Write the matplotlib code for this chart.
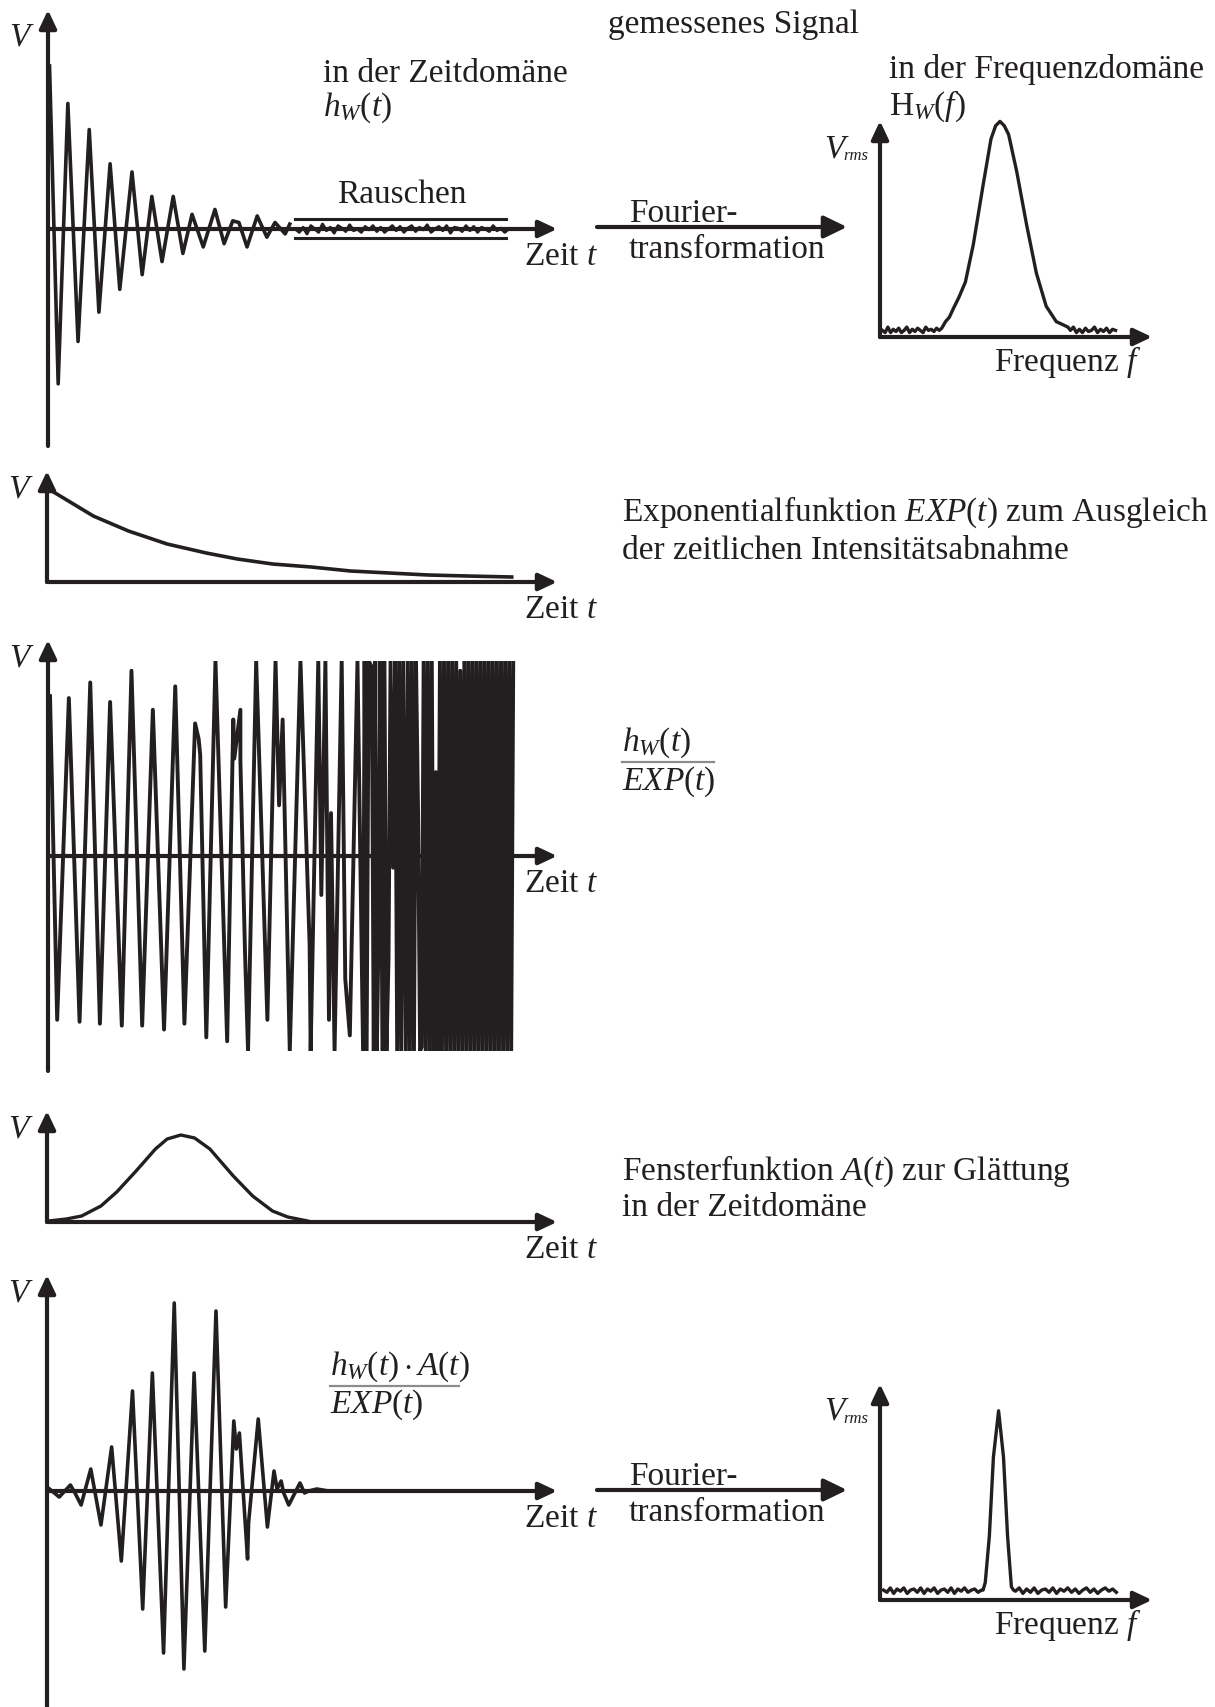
import numpy as np
import matplotlib
matplotlib.use("Agg")
import matplotlib.pyplot as plt

plt.rcParams['font.family'] = ['Liberation Serif', 'DejaVu Serif']
plt.rcParams['mathtext.fontset'] = 'custom'
plt.rcParams['mathtext.rm'] = 'Liberation Serif'
plt.rcParams['mathtext.it'] = 'Liberation Serif:italic'
plt.rcParams['mathtext.bf'] = 'Liberation Serif:bold'

INK = '#231f20'
W, H = 1215, 1708

# measured signal h_w(t): turning points (time 0..100, volts relative to first peak)
p1_t = [0.3, 2.0, 3.9, 5.9, 8.1, 10.0, 12.2, 14.1, 16.5, 18.5, 20.4, 22.4, 24.6, 26.5,
        28.3, 30.5, 32.8, 34.6, 36.3, 37.5, 39.1, 41.1, 43.0, 44.6, 46.6, 47.5]
p1_v = [1.0, -0.95, 0.77, -0.69, 0.61, -0.51, 0.40, -0.37, 0.35, -0.28, 0.20, -0.20, 0.20, -0.15,
        0.09, -0.11, 0.12, -0.09, 0.05, 0.04, -0.11, 0.08, -0.05, 0.04, -0.03, 0.03]
# noise tail after the ringing has died out
noise_v = [0.00, -0.02, 0.01, -0.03, 0.02, 0.00, -0.02, 0.03, -0.01, 0.01, -0.025, 0.02, 0.005, -0.015,
           0.025, -0.01, 0.0, -0.02, 0.015, -0.005, 0.02, -0.015, 0.01, -0.02, 0.0, 0.02, -0.01, 0.015,
           -0.02, 0.005, 0.02, -0.015, 0.01, -0.005, 0.025, -0.02, 0.0, 0.015, -0.01, 0.02, -0.025, 0.01,
           0.005, -0.015, 0.02, -0.01, 0.015, -0.02, 0.01, 0.0, -0.015, 0.02, -0.01, 0.005, -0.02, 0.0]

# EXP(t)
p2_t = [0.3, 9.1, 16.0, 23.6, 31.3, 37.4, 44.3, 51.9, 59.6, 67.2, 74.9, 82.5, 91.3]
p2_v = [0.93, 0.66, 0.51, 0.38, 0.29, 0.23, 0.18, 0.15, 0.11, 0.09, 0.07, 0.06, 0.05]

# h_w(t) / EXP(t), clipped at +-1
p3_t = [0.4, 1.8, 4.1, 6.2, 8.3, 10.2, 12.2, 14.5, 16.4, 18.5, 20.6, 22.8, 25.0, 26.8, 28.9, 29.6,
        29.9, 31.1, 32.9, 35.2, 36.4, 36.6, 37.8, 37.8, 38.7, 39.3, 40.9, 43.1, 44.7, 45.4, 46.1,
        47.5, 49.6, 51.4, 51.6, 53.1, 53.7, 54.5, 55.2, 55.6, 56.3, 57.7, 58.4, 59.3, 60.8, 61.9]
p3_v = [0.82, -0.84, 0.81, -0.85, 0.89, -0.86, 0.79, -0.87, 0.95, -0.87, 0.75, -0.89, 0.87, -0.86, 0.68, 0.60,
        0.52, -0.93, 1.0, -0.95, 0.70, 0.50, 0.75, 0.49, -0.49, -1.0, 1.0, -0.84, 1.0, 0.26, 0.70,
        -1.0, 1.0, -0.46, -1.0, 1.0, -0.20, 1.0, -0.84, 0.22, -1.0, 1.0, -0.63, -0.92, 1.0, -1.0]
# amplified noise at the end of the record
p3_tail_t = [62.2, 62.6, 63.0, 63.6, 64.0, 64.3, 64.6, 64.9, 65.3, 65.7, 66.1, 66.5, 66.9, 67.3, 67.8,
             68.2, 68.6, 69.0, 69.4, 69.8, 70.3, 70.7, 71.1, 71.5, 71.9, 72.3, 72.7, 73.1, 73.4, 73.8,
             74.2, 74.6, 75.0, 75.4, 75.8, 76.2, 76.6, 77.0, 77.4, 77.8, 78.2, 78.6, 79.0, 79.4, 79.8,
             80.2, 80.6, 81.0, 81.4, 81.8, 82.2, 82.6, 83.0, 83.4, 83.8, 84.2, 84.6, 85.0, 85.4, 85.8,
             86.2, 86.6, 87.0, 87.4, 87.8, 88.2, 88.6, 89.0, 89.4, 89.8, 90.2, 90.6, 91.0, 91.4]
p3_tail_v = [1.0, -1.0, 1.0, 0.97, -1.0, 1.0, -1.0, -0.48, 1.0, -1.0, 1.0, -1.0, -0.53, 1.0, -0.06,
             1.0, -1.0, 1.0, -1.0, 1.0, -1.0, 1.0, -1.0, 1.0, -1.0, 1.0, 0.23, -1.0, -0.98, 1.0,
             -1.0, 1.0, -1.0, 1.0, -1.0, 0.43, -1.0, 1.0, -1.0, 1.0, -1.0, 1.0, -1.0, 1.0, -1.0,
             1.0, -1.0, 0.95, -1.0, 1.0, -1.0, 1.0, -1.0, 1.0, -1.0, 1.0, -1.0, 1.0, -1.0, 1.0,
             -1.0, 1.0, -1.0, 1.0, -1.0, 1.0, -1.0, 1.0, -1.0, 1.0, -1.0, 1.0, -1.0, 1.0]

# window A(t)
p4_t = [0.3, 3.8, 6.8, 10.6, 13.7, 17.5, 21.3, 23.6, 26.3, 29.0, 32.0, 36.6, 40.4, 44.3, 47.3, 51.2]
p4_v = [0.01, 0.03, 0.06, 0.16, 0.30, 0.51, 0.73, 0.83, 0.87, 0.84, 0.73, 0.46, 0.26, 0.11, 0.05, 0.01]

# h_w(t) * A(t) / EXP(t)
p5_t = [0.5, 2.4, 4.6, 5.5, 6.7, 8.6, 10.6, 12.7, 14.6, 16.8, 18.8, 20.7, 22.9, 25.0, 26.9, 28.9, 31.0,
        33.2, 35.1, 36.7, 37.2, 37.8, 39.4, 39.6, 41.5, 43.3, 44.6, 45.2, 46.0, 46.5, 47.5, 49.7, 50.6,
        51.4, 53.0, 55.3, 56.9]
p5_v = [0.01, -0.03, 0.03, -0.01, -0.07, 0.11, -0.17, 0.22, -0.35, 0.50, -0.59, 0.59, -0.81, 0.94, -0.89,
        0.59, -0.80, 0.90, -0.58, 0.35, 0.21, 0.29, -0.34, -0.16, 0.36, -0.18, 0.10, 0.01, 0.05, -0.01,
        -0.07, 0.04, -0.01, 0.0, 0.01, 0.0, 0.0]

# spectra H_w(f): noise floor left / peak / noise floor right
s1_left = [0.03, 0.02, 0.045, 0.02, 0.035, 0.025, 0.04, 0.02, 0.03, 0.045, 0.02, 0.035, 0.025, 0.04,
           0.03, 0.02, 0.045, 0.03, 0.035, 0.025, 0.04, 0.03]
s1_peak_f = [22.7, 24.1, 25.5, 27.0, 29.0, 31.4, 34.3, 37.9, 40.8, 42.5, 44.1, 45.7, 47.3, 50.3, 53.9,
             57.5, 61.1, 64.8, 69.1]
s1_peak_a = [0.04, 0.07, 0.09, 0.13, 0.18, 0.25, 0.42, 0.69, 0.90, 0.96, 0.98, 0.96, 0.92, 0.75, 0.51,
             0.29, 0.14, 0.07, 0.045]
s1_right = [0.03, 0.045, 0.02, 0.035, 0.02, 0.04, 0.025, 0.03, 0.045, 0.02, 0.035, 0.025, 0.04, 0.02,
            0.035, 0.03]

s2_left = [0.045, 0.035, 0.055, 0.03, 0.05, 0.04, 0.055, 0.03, 0.045, 0.05, 0.035, 0.055, 0.03, 0.05,
           0.04, 0.055, 0.03, 0.045, 0.05, 0.035, 0.055, 0.03, 0.05, 0.04, 0.055, 0.035, 0.045, 0.05,
           0.035, 0.045]
s2_peak_f = [37.9, 38.7, 40.2, 41.7, 43.6, 45.4, 46.9, 48.3, 49.1]
s2_peak_a = [0.045, 0.08, 0.29, 0.65, 0.86, 0.65, 0.29, 0.06, 0.045]
s2_right = [0.04, 0.055, 0.03, 0.05, 0.035, 0.055, 0.03, 0.045, 0.05, 0.035, 0.055, 0.03, 0.05, 0.04,
            0.055, 0.035, 0.05, 0.03, 0.045, 0.055, 0.035, 0.05, 0.03, 0.045, 0.055, 0.04, 0.05, 0.035]

fig = plt.figure(figsize=(W / 100, H / 100), dpi=100)
bg = fig.add_axes([0, 0, 1, 1])
bg.set_xlim(0, W)
bg.set_ylim(H, 0)
bg.axis('off')


def signal_axes(x0, x1, y0, px, vlo, vhi):
    # axes whose x runs 0..100 between x0 and x1 and whose zero sits on pixel row y0
    bottom = y0 - vlo * px
    ax = fig.add_axes([x0 / W, 1 - bottom / H, (x1 - x0) / W, (vhi - vlo) * px / H])
    ax.set_xlim(0, 100)
    ax.set_ylim(vlo, vhi)
    ax.axis('off')
    ax.patch.set_alpha(0)
    return ax


def arrow(x0, y0, x1, y1, hl=0.55, hw=0.26, lw=3.0):
    bg.annotate('', xy=(x1, y1), xytext=(x0, y0),
                arrowprops=dict(arrowstyle=f'-|>,head_length={hl},head_width={hw}', lw=lw,
                                color=INK, shrinkA=0, shrinkB=0, mutation_scale=20))


def txt(x, y, s, size=24, **kw):
    bg.text(x, y, s, fontsize=size, color=INK, ha=kw.pop('ha', 'left'), va=kw.pop('va', 'baseline'), **kw)


# coordinate axes of the five time traces
for x, ytop, ybot, yz in [(48, 11, 447, 230), (47, 472, 583, 583), (48, 641, 1072, 857),
                          (47, 1112, 1223, 1223), (47, 1276, 1708, 1492)]:
    arrow(x, ybot, x, ytop)
    arrow(x, yz, 557, yz)
    txt(x - 29, ytop + 35 if ytop < 20 else ytop + 26, 'V', ha='center', style='italic')
    txt(524, yz + 35, 'Zeit $t$')

# spectra axes
for yz in (338, 1601):
    arrow(880, yz, 880, yz - 216)
    arrow(880, yz, 1152, yz)
    txt(834, yz - 181, 'V', ha='center', style='italic')
    txt(843, yz - 178, 'rms', size=12, style='italic')
    txt(994, yz + 33, 'Frequenz $f$')

# Fourier transform arrows
for yz in (228, 1491):
    arrow(597, yz, 847, yz, hl=0.7, hw=0.34)
    txt(629, yz - 6, 'Fourier-')
    txt(629, yz + 30, 'transformation')

lw_sig = 2.6
ax1 = signal_axes(48, 557, 230, 163, -1.4, 1.4)
ax1.plot(p1_t, p1_v, color=INK, lw=lw_sig, clip_on=False)
ax1.plot(np.linspace(48.6, 90.5, len(noise_v)), noise_v, color=INK, lw=2.2, clip_on=False)
bg.plot([295, 506], [220, 220], color=INK, lw=2.2)
bg.plot([295, 506], [239, 239], color=INK, lw=2.2)

ax2 = signal_axes(47, 556, 583, 100, -0.1, 1.1)
ax2.plot(p2_t, p2_v, color=INK, lw=2.6, clip_on=False)

ax3 = signal_axes(48, 557, 857, 195, -1.0, 1.0)
ax3.plot(p3_t + p3_tail_t, p3_v + p3_tail_v, color=INK, lw=2.8)

ax4 = signal_axes(47, 556, 1223, 100, -0.1, 1.1)
ax4.plot(p4_t, p4_v, color=INK, lw=2.4, clip_on=False)

ax5 = signal_axes(47, 556, 1492, 200, -1.1, 1.1)
ax5.plot(p5_t, p5_v, color=INK, lw=lw_sig, clip_on=False)

s1 = signal_axes(880, 1152, 338, 220, -0.1, 1.1)
s1_f = np.concatenate([np.linspace(0.9, 21.8, len(s1_left)), s1_peak_f, np.linspace(70.0, 86.6, len(s1_right))])
s1.plot(s1_f, s1_left + s1_peak_a + s1_right, color=INK, lw=2.4, clip_on=False)

s2 = signal_axes(880, 1152, 1601, 220, -0.1, 1.1)
s2_f = np.concatenate([np.linspace(1.3, 37.3, len(s2_left)), s2_peak_f, np.linspace(49.8, 86.9, len(s2_right))])
s2.plot(s2_f, s2_left + s2_peak_a + s2_right, color=INK, lw=2.4, clip_on=False)

# labels
txt(608, 33, 'gemessenes Signal')
txt(323, 82, 'in der Zeitdomäne')
txt(323, 116, '$h_W(t)$')
txt(402, 203, 'Rauschen', ha='center')
txt(889, 78, 'in der Frequenzdomäne')
txt(889, 115, r'$\mathrm{H}_W(f)$')

txt(622, 521, 'Exponentialfunktion $EXP(t)$ zum Ausgleich')
txt(622, 559, 'der zeitlichen Intensitätsabnahme')

txt(622, 751, '$h_W(t)$')
bg.plot([622, 714], [763, 763], color='#8c8c8c', lw=1.6)
txt(622, 790, '$EXP(t)$')

txt(622, 1180, 'Fensterfunktion $A(t)$ zur Glättung')
txt(622, 1216, 'in der Zeitdomäne')

txt(330, 1375, r'$h_W(t)\cdot A(t)$')
bg.plot([330, 459], [1387, 1387], color='#8c8c8c', lw=1.6)
txt(330, 1413, '$EXP(t)$')

fig.savefig('out.png', dpi=100)
